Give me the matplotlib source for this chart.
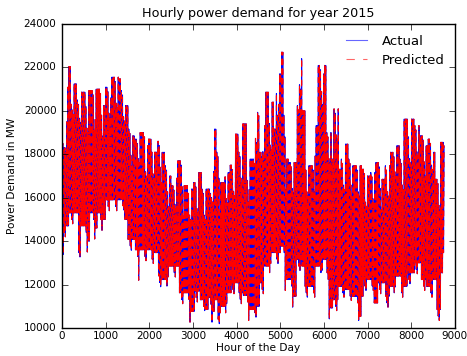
import numpy as np
import matplotlib
matplotlib.use("Agg")
import matplotlib.pyplot as plt

# daily peak envelope (hour of year, MW)
peak_hours = [0, 60, 114, 150, 190, 230, 300, 340, 380, 450, 530, 600, 680, 720, 760, 830,
              910, 985, 1060, 1100, 1140, 1210, 1290, 1360, 1440, 1515, 1590, 1670, 1740,
              1820, 1890, 1970, 2050, 2120, 2200, 2270, 2350, 2420, 2500, 2580, 2650, 2690,
              2770, 2880, 3000, 3115, 3190, 3350, 3420, 3485, 3540, 3615, 3730, 3850, 3960,
              4040, 4130, 4230, 4270, 4350, 4420, 4490, 4510, 4580, 4660, 4735, 4800, 4850,
              4900, 4960, 5020, 5060, 5110, 5190, 5300, 5380, 5440, 5490, 5570, 5720, 5800,
              5870, 5950, 6000, 6060, 6170, 6230, 6330, 6400, 6480, 6550, 6630, 6780, 6860,
              6950, 7060, 7170, 7290, 7400, 7510, 7620, 7740, 7830, 7930, 8000, 8080, 8190,
              8300, 8380, 8490, 8560, 8680, 8740]
peak_mw = [18500, 19500, 21090, 22040, 20500, 21240, 21240, 20500, 20860, 20860, 20400, 20930,
           20930, 20300, 21000, 21000, 20240, 21090, 21090, 20600, 21550, 21550, 21470, 20930,
           20240, 19160, 18850, 18700, 19000, 19000, 18390, 18700, 18300, 18100, 18600, 18090,
           17470, 17000, 16550, 16900, 17700, 17700, 16550, 16400, 16700, 17160, 16400, 16400,
           17200, 19160, 18100, 16700, 17160, 17500, 18930, 18100, 19400, 17000, 17780, 17780,
           19930, 19780, 18090, 19320, 20860, 19620, 20400, 19160, 21000, 21700, 22700, 20000,
           17780, 17620, 17620, 20240, 22400, 20000, 17470, 17470, 19320, 22090, 21700, 22090,
           19000, 17780, 20090, 17310, 17780, 18470, 17780, 17470, 17470, 17310, 17000, 17160,
           17620, 16850, 17470, 18090, 18390, 17780, 19620, 19000, 19620, 19320, 18850, 18390,
           18700, 18090, 16850, 18550, 18390]

# daily trough envelope
low_hours = [0, 40, 150, 300, 380, 420, 530, 570, 640, 740, 800, 910, 1000, 1060, 1360, 1440,
             1515, 1590, 1670, 1740, 1780, 1890, 2045, 2200, 2270, 2350, 2420, 2580, 2690,
             2810, 2920, 3040, 3150, 3270, 3350, 3420, 3500, 3580, 3650, 3770, 3880, 4040,
             4150, 4270, 4420, 4540, 4620, 4700, 4770, 4890, 5000, 5110, 5270, 5380, 5490,
             5570, 5720, 5800, 5950, 6060, 6110, 6210, 6330, 6480, 6630, 6780, 6810, 6860,
             6910, 7020, 7140, 7250, 7400, 7510, 7620, 7770, 7920, 8080, 8220, 8340, 8490,
             8590, 8680, 8740]
low_mw = [13390, 14700, 15300, 15300, 13770, 14700, 14700, 14000, 15300, 14600, 15300, 15000,
          15900, 15900, 15930, 15000, 14080, 14080, 13600, 12700, 13600, 13600, 13470, 12400,
          12230, 12230, 12850, 12850, 11620, 11620, 10770, 11700, 11300, 10850, 11400, 10770,
          11300, 10700, 11000, 11620, 12080, 11620, 11500, 10850, 11000, 12080, 12850, 12850,
          13470, 13470, 13770, 12230, 11460, 13150, 12850, 11920, 11920, 12850, 13150, 12540,
          10920, 11300, 11920, 11770, 11460, 10850, 10540, 11460, 12230, 12230, 11150, 12080,
          11460, 11920, 12390, 11920, 12540, 13000, 12230, 11920, 12230, 10850, 12540, 13470]

# weekend dip in the daily peak / trough (Mon..Sun), seen as the weekly sawtooth
peak_weekday_drop = [0, 0, 0, 0, 200, 1200, 1400]
low_weekday_drop = [0, 0, 0, 0, 0, 300, 500]

n_days = 365
t = []
demand = []
for d in range(n_days):
    h_low = 24 * d + 4
    h_high = 24 * d + 17
    i = np.searchsorted(low_hours, h_low, side="right") - 1
    j = np.searchsorted(peak_hours, h_high, side="right") - 1
    wd = (d + 3) % 7  # 2015-01-01 was a Thursday
    t += [h_low, h_high]
    demand += [low_mw[i] - low_weekday_drop[wd], peak_mw[j] - peak_weekday_drop[wd]]

t = np.array(t)
actual = np.array(demand)
predicted = np.array(demand)

plt.style.use("classic")
fig = plt.figure(figsize=(4.67, 3.56), dpi=100)
ax = fig.add_axes([0.1328, 0.0787, 0.8412, 0.854])
ax.plot(t, actual, color="b", lw=0.8, label="Actual")
ax.plot(t, predicted, color="r", ls="--", dashes=(4, 3), lw=0.8, label="Predicted")
ax.set_xlim(0, 9000)
ax.set_ylim(10000, 24000)
ax.set_title("Hourly power demand for year 2015", fontsize=9.2)
ax.set_xlabel("Hour of the Day", fontsize=7.6, labelpad=1.5)
ax.set_ylabel("Power Demand in MW", fontsize=7.6)
ax.tick_params(labelsize=7.5)
ax.tick_params(axis="x", pad=2)
leg = ax.legend(loc="upper right", frameon=False, fontsize=9.5, handlelength=2.2,
                borderaxespad=0.4)
for line in leg.get_lines():
    line.set_alpha(0.6)
leg.get_lines()[1].set_dashes((6, 6))
fig.savefig("out.png", dpi=100)
